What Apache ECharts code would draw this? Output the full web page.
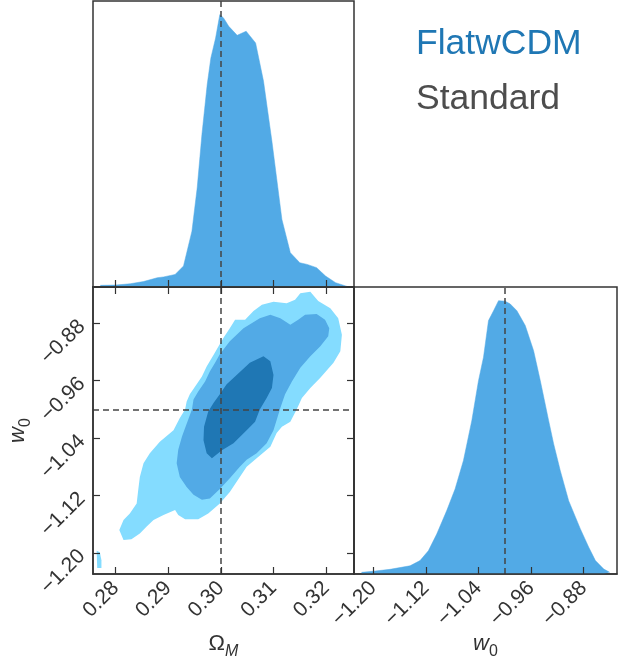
<!DOCTYPE html>
<html lang="en">
<head>
<meta charset="UTF-8">
<title>corner</title>
<script src="https://cdn.jsdelivr.net/npm/echarts@6/dist/echarts.min.js"></script>
<style>
  html, body { margin: 0; padding: 0; background: #fff; }
  #content { width: 627px; height: 664px; }
</style>
</head>
<body>
<div id="content"></div>
<script>
// tick labels
var omegaTicks = [0.28, 0.29, 0.30, 0.31, 0.32];
var w0Ticks = [-1.20, -1.12, -1.04, -0.96, -0.88];
var omegaRange = [0.2757, 0.3253];
var w0Range = [-1.2293, -0.8294];
// true values (dashed lines)
var truth = [0.30, -1.0];

// marginal of Omega_M (normalised to peak)
var omegaHistX = [0.2771, 0.2800, 0.2828, 0.2853, 0.2879, 0.2891, 0.2913, 0.2929, 0.2945, 0.2955,
                  0.2964, 0.2974, 0.2981, 0.2990, 0.2998, 0.3005, 0.3015, 0.3031, 0.3048, 0.3066,
                  0.3081, 0.3097, 0.3116, 0.3132, 0.3150, 0.3164, 0.3182, 0.3199, 0.3218, 0.3240];
var omegaHistY = [0.006, 0.007, 0.012, 0.020, 0.034, 0.037, 0.046, 0.077, 0.205, 0.364,
                  0.560, 0.743, 0.841, 0.914, 1.000, 0.988, 0.957, 0.924, 0.939, 0.896,
                  0.756, 0.535, 0.248, 0.126, 0.089, 0.083, 0.071, 0.040, 0.016, 0.002];

// marginal of w0
var w0HistX = [-1.2178, -1.2000, -1.1746, -1.1441, -1.1289, -1.1162, -1.1035, -1.0883, -1.0756, -1.0629,
               -1.0502, -1.0400, -1.0324, -1.0248, -1.0171, -1.0095, -0.9994, -0.9917, -0.9816, -0.9689,
               -0.9562, -0.9460, -0.9333, -0.9257, -0.9156, -0.9029, -0.8851, -0.8724, -0.8622, -0.8495, -0.8404];
var w0HistY = [0.006, 0.010, 0.017, 0.030, 0.049, 0.085, 0.146, 0.232, 0.311, 0.415,
               0.561, 0.707, 0.793, 0.927, 0.963, 1.000, 0.998, 0.988, 0.963, 0.909,
               0.817, 0.707, 0.561, 0.476, 0.378, 0.268, 0.165, 0.098, 0.049, 0.018, 0.006];

// 2D contours [Omega_M, w0]
var contourOuter = [
  [0.3141, -0.847], [0.3151, -0.838], [0.3170, -0.836], [0.3185, -0.849], [0.3208, -0.859],
  [0.3223, -0.873], [0.3230, -0.896], [0.3227, -0.919], [0.3214, -0.935], [0.3189, -0.956],
  [0.3170, -0.970], [0.3154, -0.984], [0.3144, -1.000], [0.3132, -1.017], [0.3116, -1.024],
  [0.3106, -1.033], [0.3094, -1.052], [0.3068, -1.068], [0.3049, -1.080], [0.3036, -1.094],
  [0.3017, -1.115], [0.2998, -1.131], [0.2976, -1.145], [0.2957, -1.153], [0.2932, -1.153],
  [0.2919, -1.147], [0.2913, -1.140], [0.2891, -1.147], [0.2872, -1.154], [0.2859, -1.163],
  [0.2846, -1.173], [0.2830, -1.181], [0.2815, -1.182], [0.2807, -1.168], [0.2815, -1.154],
  [0.2827, -1.145], [0.2840, -1.131], [0.2843, -1.112], [0.2846, -1.094], [0.2853, -1.075],
  [0.2865, -1.061], [0.2884, -1.045], [0.2910, -1.029], [0.2922, -1.012], [0.2932, -1.000],
  [0.2935, -0.989], [0.2941, -0.979], [0.2954, -0.965], [0.2964, -0.954], [0.2973, -0.940],
  [0.2986, -0.924], [0.3005, -0.900], [0.3017, -0.887], [0.3027, -0.875], [0.3046, -0.875],
  [0.3062, -0.863], [0.3078, -0.854], [0.3100, -0.850], [0.3125, -0.852]
];
var contourMid = [
  [0.3074, -0.873], [0.3094, -0.868], [0.3113, -0.873], [0.3132, -0.882], [0.3147, -0.875],
  [0.3160, -0.868], [0.3182, -0.867], [0.3198, -0.875], [0.3206, -0.887], [0.3204, -0.898],
  [0.3189, -0.912], [0.3170, -0.926], [0.3151, -0.942], [0.3135, -0.961], [0.3122, -0.979],
  [0.3113, -0.998], [0.3105, -1.017], [0.3100, -1.029], [0.3087, -1.047], [0.3068, -1.061],
  [0.3049, -1.070], [0.3036, -1.080], [0.3017, -1.096], [0.2998, -1.111], [0.2979, -1.124],
  [0.2964, -1.126], [0.2948, -1.119], [0.2935, -1.108], [0.2922, -1.094], [0.2916, -1.075],
  [0.2919, -1.056], [0.2926, -1.038], [0.2932, -1.026], [0.2938, -1.014], [0.2945, -1.000],
  [0.2948, -0.986], [0.2957, -0.975], [0.2970, -0.961], [0.2979, -0.947], [0.2989, -0.935],
  [0.2998, -0.923], [0.3017, -0.905], [0.3043, -0.887]
];
var contourInner = [
  [0.3081, -0.926], [0.3094, -0.933], [0.3100, -0.952], [0.3097, -0.970], [0.3087, -0.984],
  [0.3074, -1.000], [0.3065, -1.017], [0.3049, -1.029], [0.3024, -1.047], [0.3002, -1.057],
  [0.2983, -1.068], [0.2973, -1.061], [0.2967, -1.043], [0.2968, -1.024], [0.2976, -1.003],
  [0.2986, -0.991], [0.2998, -0.979], [0.3011, -0.965], [0.3030, -0.952], [0.3055, -0.935]
];
var contourIsland = [
  [0.2764, -1.197], [0.2770, -1.199], [0.2773, -1.210], [0.2773, -1.221], [0.2765, -1.221]
];

var myChart = echarts.init(document.getElementById('content'));

var FONT = '"Liberation Sans", Arial, sans-serif';
var INK = '#333333';
var C_INNER = '#1f77b4', C_MID = '#52aae6', C_OUTER = '#84dcff';

function fmt(v) { return v.toFixed(2).replace('-', '\u2212'); }
function zip(xs, ys) { return xs.map(function (x, i) { return [x, ys[i]]; }); }

function polySeries(pts, color) {
  return {
    type: 'custom', xAxisIndex: 1, yAxisIndex: 1, clip: true, silent: true,
    data: pts,
    renderItem: function (params, api) {
      if (params.dataIndex !== 0) return null;
      return {
        type: 'polygon',
        shape: { points: pts.map(function (p) { return api.coord(p); }) },
        style: { fill: color }
      };
    }
  };
}

function tickAxis(ticks, extra) {
  var ax = {
    type: 'value', z: 10,
    splitLine: { show: false },
    axisLine: { show: true, lineStyle: { color: INK, width: 1.5 } },
    axisTick: { show: true, inside: true, length: 7, customValues: ticks, lineStyle: { color: INK, width: 1.2 } },
    axisLabel: { show: false, customValues: ticks }
  };
  for (var k in extra) ax[k] = extra[k];
  return ax;
}

function labels(ticks) {
  return { show: true, rotate: 45, fontSize: 21, color: INK, fontFamily: FONT, margin: 11,
           formatter: fmt, customValues: ticks };
}
var nameRich = {
  a: { fontSize: 22, color: INK, fontFamily: FONT, fontStyle: 'italic', lineHeight: 26, verticalAlign: 'bottom' },
  g: { fontSize: 22, color: INK, fontFamily: FONT, lineHeight: 26, verticalAlign: 'bottom' },
  s: { fontSize: 16, color: INK, fontFamily: FONT, fontStyle: 'italic', lineHeight: 20, verticalAlign: 'bottom', padding: [0, 0, -5, 0] },
  n: { fontSize: 16, color: INK, fontFamily: FONT, lineHeight: 20, verticalAlign: 'bottom', padding: [0, 0, -5, 0] }
};

function dashes(xi, yi, mark) {
  return {
    type: 'line', xAxisIndex: xi, yAxisIndex: yi, data: [], z: 6,
    markLine: {
      silent: true, symbol: 'none', label: { show: false },
      lineStyle: { color: '#444', type: [6, 4], width: 1.5 },
      data: mark
    }
  };
}

var option = {
  animation: false,
  backgroundColor: '#fff',
  grid: [
    { left: 93, top: 1, width: 261, height: 286, show: true, borderColor: INK, borderWidth: 1.5 },
    { left: 93, top: 287, width: 261, height: 287, show: true, borderColor: INK, borderWidth: 1.5 },
    { left: 354, top: 287, width: 263, height: 287, show: true, borderColor: INK, borderWidth: 1.5 }
  ],
  xAxis: [
    tickAxis(omegaTicks, { gridIndex: 0, min: omegaRange[0], max: omegaRange[1] }),
    tickAxis(omegaTicks, {
      gridIndex: 1, min: omegaRange[0], max: omegaRange[1],
      axisLabel: labels(omegaTicks),
      name: '{g|\u03A9}{s|M}', nameLocation: 'middle', nameGap: 55,
      nameTextStyle: { rich: nameRich }
    }),
    tickAxis(w0Ticks, {
      gridIndex: 2, min: w0Range[0], max: w0Range[1],
      axisLabel: labels(w0Ticks),
      name: '{a|w}{n|0}', nameLocation: 'middle', nameGap: 55,
      nameTextStyle: { rich: nameRich }
    }),
    tickAxis(omegaTicks, { gridIndex: 1, position: 'top', min: omegaRange[0], max: omegaRange[1] })
  ],
  yAxis: [
    { type: 'value', gridIndex: 0, min: 0, max: 1.05, show: false },
    tickAxis(w0Ticks, {
      gridIndex: 1, min: w0Range[0], max: w0Range[1],
      axisLabel: labels(w0Ticks),
      name: '{a|w}{n|0}', nameLocation: 'middle', nameGap: 55, nameRotate: 90,
      nameTextStyle: { rich: nameRich }
    }),
    { type: 'value', gridIndex: 2, min: 0, max: 1.05, show: false },
    tickAxis(w0Ticks, { gridIndex: 1, position: 'right', min: w0Range[0], max: w0Range[1] })
  ],
  series: [
    {
      type: 'line', xAxisIndex: 0, yAxisIndex: 0, data: zip(omegaHistX, omegaHistY),
      showSymbol: false, silent: true, lineStyle: { width: 0.5, color: C_MID },
      areaStyle: { color: C_MID, opacity: 1 }
    },
    {
      type: 'line', xAxisIndex: 2, yAxisIndex: 2, data: zip(w0HistX, w0HistY),
      showSymbol: false, silent: true, lineStyle: { width: 0.5, color: C_MID },
      areaStyle: { color: C_MID, opacity: 1 }
    },
    polySeries(contourOuter, C_OUTER),
    polySeries(contourIsland, C_OUTER),
    polySeries(contourMid, C_MID),
    polySeries(contourInner, C_INNER),
    dashes(0, 0, [{ xAxis: truth[0] }]),
    dashes(1, 1, [{ xAxis: truth[0] }, { yAxis: truth[1] }]),
    dashes(2, 2, [{ xAxis: truth[1] }])
  ],
  graphic: [
    { type: 'text', left: 416, top: 26, style: { text: 'FlatwCDM', fill: '#1f77b4', fontSize: 35.5, fontFamily: FONT } },
    { type: 'text', left: 416, top: 81, style: { text: 'Standard', fill: '#4d4d4d', fontSize: 35.5, fontFamily: FONT } }
  ]
};

myChart.setOption(option);
</script>
</body>
</html>
